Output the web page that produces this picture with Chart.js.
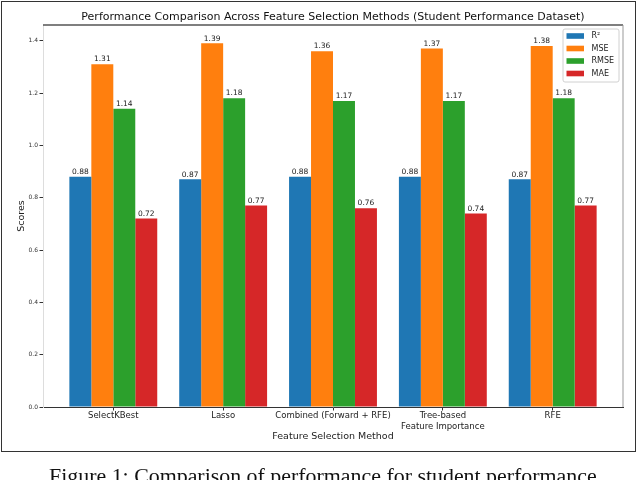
<!DOCTYPE html>
<html>
<head>
<meta charset="utf-8">
<script src="https://cdn.jsdelivr.net/npm/chart.js@4"></script>
<style>
  html, body { margin: 0; padding: 0; background: #fff; }
  body { width: 640px; height: 480px; position: relative; overflow: hidden; }
  #wrap { position: absolute; left: 0; top: 0; width: 640px; height: 452px; }
  #frame {
    position: absolute; left: 1px; top: 1px; width: 633px; height: 449px;
    border: 1.5px solid #333; pointer-events: none;
  }
  #caption {
    position: absolute; left: 49px; top: 465.4px; white-space: nowrap;
    font-family: "Liberation Serif", serif; font-size: 21.9px; line-height: 22px; color: #111;
  }
</style>
</head>
<body>
<div id="wrap"><canvas id="canvas" width="640" height="452"></canvas></div>
<div id="frame"></div>
<div id="caption">Figure 1: Comparison of performance for student performance</div>
<script>
// feature selection methods on the x axis
const methods = ['SelectKBest', 'Lasso', 'Combined (Forward + RFE)',
                 ['Tree-based', 'Feature Importance'], 'RFE'];

// one array per metric
const metricNames = ['R²', 'MSE', 'RMSE', 'MAE'];
const r2   = [0.88, 0.87, 0.88, 0.88, 0.87];
const mse  = [1.31, 1.39, 1.36, 1.37, 1.38];
const rmse = [1.14, 1.18, 1.17, 1.17, 1.18];
const mae  = [0.72, 0.77, 0.76, 0.74, 0.77];

const yTicks = [0.0, 0.2, 0.4, 0.6, 0.8, 1.0, 1.2, 1.4];

// matplotlib tab10
const colors = ['#1f77b4', '#ff7f0e', '#2ca02c', '#d62728'];

Chart.defaults.font.family = '"DejaVu Sans", sans-serif';
Chart.defaults.color = '#222';

// numbers on top of every bar
const valueLabels = {
  id: 'valueLabels',
  afterDatasetsDraw(chart) {
    const ctx = chart.ctx;
    ctx.save();
    ctx.font = '7.5px "DejaVu Sans"';
    ctx.fillStyle = '#222';
    ctx.textAlign = 'center';
    ctx.textBaseline = 'bottom';
    chart.data.datasets.forEach((ds, i) => {
      chart.getDatasetMeta(i).data.forEach((bar, j) => {
        ctx.fillText(ds.data[j].y.toFixed(2), bar.x, bar.y - 1);
      });
    });
    ctx.restore();
  }
};

// top and right spines (matplotlib frame)
const spines = {
  id: 'spines',
  afterDraw(chart) {
    const {ctx, chartArea: a} = chart;
    ctx.save();
    ctx.strokeStyle = '#555';
    ctx.lineWidth = 1.5;
    ctx.beginPath(); ctx.moveTo(a.left, a.top); ctx.lineTo(a.right, a.top); ctx.stroke();
    ctx.strokeStyle = '#999';
    ctx.lineWidth = 1;
    ctx.beginPath(); ctx.moveTo(a.right, a.top); ctx.lineTo(a.right, a.bottom); ctx.stroke();
    ctx.restore();
  }
};

// legend box in the upper right corner of the axes
const boxLegend = {
  id: 'boxLegend',
  afterDraw(chart) {
    const {ctx, chartArea} = chart;
    const w = 56, h = 53, rowH = 12.5;
    const x0 = chartArea.right - 4 - w, y0 = chartArea.top + 4;
    ctx.save();
    ctx.fillStyle = 'rgba(255,255,255,0.8)';
    ctx.strokeStyle = '#d0d0d0';
    ctx.lineWidth = 1;
    ctx.beginPath();
    ctx.roundRect(x0, y0, w, h, 2);
    ctx.fill();
    ctx.stroke();
    ctx.font = '8px "DejaVu Sans"';
    ctx.textBaseline = 'middle';
    chart.data.datasets.forEach((ds, i) => {
      const cy = y0 + 7 + i * rowH;
      ctx.fillStyle = ds.backgroundColor;
      ctx.fillRect(x0 + 3.5, cy - 2.8, 17.5, 5.6);
      ctx.fillStyle = '#222';
      ctx.fillText(ds.label, x0 + 28.5, cy);
    });
    ctx.restore();
  }
};

const series = [r2, mse, rmse, mae];
const datasets = series.map((vals, k) => ({
  label: metricNames[k],
  data: vals.map((v, i) => ({x: i, y: v})),
  backgroundColor: colors[k],
  borderWidth: 0,
  categoryPercentage: 0.8,
  barPercentage: 1.0
}));

new Chart(document.getElementById('canvas'), {
  type: 'bar',
  data: { datasets: datasets },
  plugins: [valueLabels, spines, boxLegend],
  options: {
    responsive: false,
    animation: false,
    layout: { padding: { left: 0, right: 17, top: 0, bottom: 0 } },
    plugins: {
      legend: { display: false },
      tooltip: { enabled: false },
      title: {
        display: true,
        fullSize: false,
        text: 'Performance Comparison Across Feature Selection Methods (Student Performance Dataset)',
        color: '#111',
        font: { size: 11, weight: 'normal' },
        padding: { top: 10.4, bottom: 1.4 }
      }
    },
    scales: {
      x: {
        type: 'linear',
        min: -0.64,
        max: 4.64,
        offset: false,
        afterFit: s => { s.height = 45; },
        afterBuildTicks: s => { s.ticks = methods.map((m, i) => ({value: i})); },
        grid: { drawOnChartArea: false, drawTicks: true, tickLength: 3.5, color: '#333', offset: false },
        border: { color: '#333', width: 1 },
        ticks: {
          autoSkip: false,
          maxRotation: 0,
          padding: 0.5,
          color: '#222',
          font: { size: 8.5 },
          callback: v => methods[v]
        },
        title: {
          display: true,
          text: 'Feature Selection Method',
          color: '#222',
          font: { size: 9.5 },
          padding: { top: 0, bottom: 9.3 }
        }
      },
      y: {
        min: 0,
        max: 1.46,
        afterFit: s => { s.width = 43; },
        afterBuildTicks: s => { s.ticks = yTicks.map(v => ({value: v})); },
        grid: { drawOnChartArea: false, drawTicks: true, tickLength: 3.5, color: '#333' },
        border: { color: '#ddd', width: 1 },
        ticks: {
          padding: 1.5,
          color: '#333',
          font: { size: 6 },
          callback: v => v.toFixed(1)
        },
        title: {
          display: true,
          text: 'Scores',
          color: '#222',
          font: { size: 9.5 },
          padding: { top: 16, bottom: 0 }
        }
      }
    }
  }
});
</script>
</body>
</html>
